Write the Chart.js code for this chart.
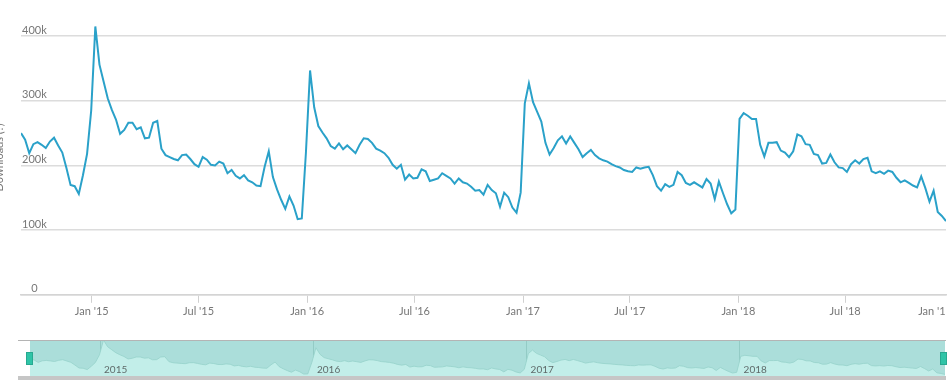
<!DOCTYPE html>
<html>
<head>
<meta charset="utf-8">
<script src="https://cdn.jsdelivr.net/npm/chart.js@4/dist/chart.umd.min.js"></script>
<style>
  html, body { margin: 0; padding: 0; background: #fff; overflow: hidden; width: 952px; height: 380px; }
  #main { position: absolute; left: -9px; top: 0; width: 961px; height: 320px; }
  #nav { position: absolute; left: 0; top: 330px; width: 952px; height: 50px; }
</style>
</head>
<body>
<div id="main"><canvas id="c1"></canvas></div>
<div id="nav"><canvas id="c2"></canvas></div>
<script>
// ---- data (weekly downloads, thousands) ----
const startWeek = '2014-09-03';
const weeklyDownloadsK = [
  250,240,219,233,236,232,227,237,243,231,
  220,196,170,168,156,185,218,285,415,356,
  330,304,286,271,249,255,266,266,256,259,
  242,243,266,269,226,216,213,210,208,216,
  217,210,202,198,213,209,201,200,206,203,
  188,193,184,180,185,177,174,169,168,198,
  222,182,163,147,133,152,138,117,118,220,
  347,290,261,251,242,230,226,234,225,231,
  225,219,232,242,241,235,226,223,219,212,
  201,195,201,178,186,180,181,194,191,176,
  178,180,188,184,180,172,180,174,172,167,
  161,162,155,170,162,157,136,158,151,135,
  127,158,296,327,298,283,268,235,217,227,
  239,245,234,245,235,225,213,219,224,216,
  211,208,206,202,199,197,193,191,190,197,
  195,197,198,185,168,161,171,167,170,190,
  185,173,170,174,170,166,179,172,148,175,
  157,140,126,132,272,281,277,272,272,232,
  214,235,235,236,223,220,213,222,248,245,
  233,232,218,216,203,204,217,205,197,196,
  190,202,208,203,210,212,191,188,191,187,
  192,190,181,174,177,173,169,166,183,165,
  144,161,128,122,114
];
const xTickDates = ['2015-01-01','2015-07-01','2016-01-01','2016-07-01','2017-01-01','2017-07-01','2018-01-01','2018-07-01','2019-01-01'];
const xTickLabels = ["Jan '15","Jul '15","Jan '16","Jul '16","Jan '17","Jul '17","Jan '18","Jul '18","Jan '19"];
const yTickValues = [0, 100, 200, 300, 400];
const yTickLabels = ['0', '100k', '200k', '300k', '400k'];
const yearDates = ['2015-01-01','2016-01-01','2017-01-01','2018-01-01'];
const yearLabels = ['2015','2016','2017','2018'];
const yAxisTitle = 'Downloads (?)';

// ---- build ----
const WEEK = 7 * 86400000;
const t0 = Date.parse(startWeek);
const points = weeklyDownloadsK.map((v, i) => ({ x: t0 + i * WEEK, y: v }));
const xMin = points[0].x, xMax = points[points.length - 1].x;
const FONT = 'Lato, "Open Sans", sans-serif';
const LABEL_COLOR = '#777';

const edgeLabelPlugin = {
  id: 'edgeLabel',
  afterDraw(chart) {
    const s = chart.scales.x, ctx = chart.ctx;
    xTickDates.forEach((d, i) => {
      const v = Date.parse(d);
      if (v > s.max) {
        ctx.save();
        ctx.beginPath();
        ctx.rect(0, s.top, chart.chartArea.right, s.bottom - s.top + 10);
        ctx.clip();
        ctx.font = '11px ' + FONT;
        ctx.fillStyle = LABEL_COLOR;
        ctx.textAlign = 'right';
        ctx.textBaseline = 'middle';
        ctx.fillText(xTickLabels[i], chart.width, s.top + 8 + 2 + 6.6);
        ctx.restore();
      }
    });
  }
};

new Chart(document.getElementById('c1'), {
  type: 'line',
  data: { datasets: [{
    data: points, borderColor: '#2aa1c9', borderWidth: 2, pointRadius: 0, tension: 0, fill: false
  }]},
  options: {
    responsive: true, maintainAspectRatio: false, animation: false,
    layout: { padding: { top: 20, right: 6, left: 0, bottom: 0 } },
    plugins: { legend: { display: false }, tooltip: { enabled: false } },
    scales: {
      x: {
        type: 'linear', min: xMin, max: xMax,
        afterBuildTicks: (s) => { s.ticks = xTickDates.map(d => ({ value: Date.parse(d) })).filter(t => t.value >= s.min && t.value <= s.max); },
        grid: { drawOnChartArea: false, drawTicks: true, tickLength: 8, color: '#d0d0d0', lineWidth: 1 },
        border: { display: true, color: '#d4d4d4', width: 1.5 },
        ticks: {
          autoSkip: false, maxRotation: 0, padding: 2, color: LABEL_COLOR,
          font: { family: FONT, size: 11 },
          callback: (v) => xTickLabels[xTickDates.findIndex(d => Date.parse(d) === v)]
        }
      },
      y: {
        min: 0, max: 425, position: 'left',
        afterBuildTicks: (s) => { s.ticks = yTickValues.map(v => ({ value: v })); },
        grid: { color: '#dcdcdc', lineWidth: 1.5, drawTicks: false },
        border: { display: false },
        ticks: {
          mirror: true, crossAlign: 'center', padding: 1, labelOffset: -6, includeBounds: false,
          color: LABEL_COLOR, font: { family: FONT, size: 11 },
          callback: (v) => yTickLabels[yTickValues.indexOf(v)]
        },
        title: { display: true, text: yAxisTitle, color: LABEL_COLOR, font: { family: FONT, size: 11 }, padding: { top: 2, bottom: 12.8 } }
      }
    }
  },
  plugins: [edgeLabelPlugin]
});

const navPlugin = {
  id: 'navDeco',
  beforeDraw(chart) {
    const a = chart.chartArea, ctx = chart.ctx;
    ctx.save();
    ctx.fillStyle = '#abdeda';
    ctx.fillRect(a.left, a.top, a.right - a.left, a.bottom - a.top);
    ctx.restore();
  },
  afterDraw(chart) {
    const a = chart.chartArea, ctx = chart.ctx;
    ctx.save();
    ctx.strokeStyle = '#b4b4b4';
    ctx.lineWidth = 1;
    ctx.beginPath();
    ctx.moveTo(18, a.top + 0.5);
    ctx.lineTo(a.right + 1, a.top + 0.5);
    ctx.stroke();
    ctx.fillStyle = '#c6c6c6';
    ctx.fillRect(18, a.bottom, a.right - 18 + 1, 4);
    ctx.fillStyle = '#2fc4a7';
    ctx.strokeStyle = '#27a990';
    ctx.fillRect(a.left - 4, a.top + 12, 7, 13);
    ctx.strokeRect(a.left - 4 + 0.5, a.top + 12 + 0.5, 6, 12);
    ctx.fillRect(a.right - 5, a.top + 12, 7, 13);
    ctx.strokeRect(a.right - 5 + 0.5, a.top + 12 + 0.5, 6, 12);
    ctx.restore();
  }
};

new Chart(document.getElementById('c2'), {
  type: 'line',
  data: { datasets: [{
    data: points, borderColor: 'rgba(150,210,203,0.8)', borderWidth: 1, backgroundColor: '#c2eee9',
    fill: 'start', pointRadius: 0, tension: 0
  }]},
  options: {
    responsive: true, maintainAspectRatio: false, animation: false,
    layout: { padding: { top: 10, right: 7, left: 30, bottom: 4 } },
    plugins: { legend: { display: false }, tooltip: { enabled: false } },
    scales: {
      x: {
        type: 'linear', min: xMin, max: xMax,
        afterBuildTicks: (s) => { s.ticks = yearDates.map(d => ({ value: Date.parse(d) })); },
        grid: { drawOnChartArea: true, drawTicks: false, color: '#93cbc5', lineWidth: 1 },
        border: { display: false },
        ticks: {
          z: 1, autoSkip: false, maxRotation: 0, padding: -12, align: 'start', labelOffset: 4,
          color: '#5f6b6a', font: { family: FONT, size: 10 },
          callback: (v) => yearLabels[yearDates.findIndex(d => Date.parse(d) === v)]
        }
      },
      y: { display: false, min: 100, max: 415 }
    }
  },
  plugins: [navPlugin]
});
</script>
</body>
</html>
